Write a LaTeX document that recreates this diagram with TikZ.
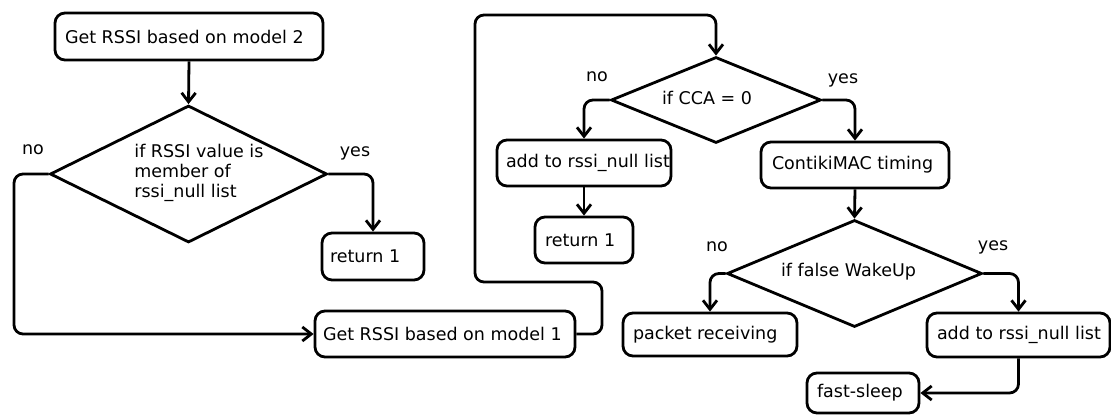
\documentclass[tikz,border=0pt]{standalone}
\usepackage{fontspec}
\setmainfont{DejaVu Sans}
\usetikzlibrary{arrows.meta,shapes.geometric}
\newcommand\bxt[3]{\makebox[#1pt][l]{\hspace*{#2pt}#3}}
\begin{document}
\begin{tikzpicture}[x=1pt,y=-1pt,
  line width=2.8pt,
  every node/.style={font=\fontsize{17.5}{20}\selectfont, text=black},
  box/.style={draw=black, rounded corners=10pt, inner sep=0pt},
  dia/.style={draw=black, diamond, inner sep=0pt},
  lbl/.style={inner sep=0pt},
  arr/.style={-{Straight Barb[length=9pt,width=14pt,line width=2.8pt]}, rounded corners=9pt}]
\useasboundingbox (0,0) rectangle (1111,415);

% boxes
\node[box, minimum height=47pt] (m2) at (189,36.5) {\bxt{268}{10}{Get RSSI based on model 2}};
\node[box, minimum height=47pt] (ret1a) at (373,256.5) {\bxt{102}{8}{return 1}};
\node[box, minimum height=46pt] (m1) at (445,334) {\bxt{260}{8}{Get RSSI based on model 1}};
\node[box, minimum height=46pt] (add1) at (584,163) {\bxt{174}{9}{add to rssi\_null list}};
\node[box, minimum height=46pt] (ret1b) at (584,240) {\bxt{98}{10}{return 1}};
\node[box, minimum height=46pt] (ctk) at (855,165) {\bxt{188}{11}{ContikiMAC timing}};
\node[box, minimum height=43pt] (pr) at (710,334.5) {\bxt{174}{10}{packet receiving}};
\node[box, minimum height=44pt] (add2) at (1018.5,335) {\bxt{183}{10}{add to rssi\_null list}};
\node[box, minimum height=40pt] (fs) at (863,393) {\bxt{112}{10}{fast-sleep}};

% diamonds
\node[dia, minimum width=277pt, minimum height=137pt] (d1) at (188.5,174) {};
\node[dia, minimum width=210pt, minimum height=86pt] (d2) at (716,100) {};
\node[dia, minimum width=255pt, minimum height=107pt] (d3) at (854.5,273.5) {};
\node[lbl, anchor=west, align=left] (d1t) at (133,173) {if RSSI value is\\member of\\rssi\_null list};
\node[lbl] (d2t) at (707,98) {if CCA = 0};
\node[lbl] (d3t) at (848.5,272) {if false WakeUp};

% branch labels
\node[lbl] (no1) at (33,150) {no};
\node[lbl] (yes1) at (355,153) {yes};
\node[lbl] (no2) at (597,77) {no};
\node[lbl] (yes2) at (843,80) {yes};
\node[lbl] (no3) at (717,247) {no};
\node[lbl] (yes3) at (993,247) {yes};

% helper coordinates for the loop
\coordinate (l1) at (602,282);
\coordinate (l2) at (475,15);
\coordinate (l0) at (14,174);

% connectors
\draw[arr] (m2.south) -- (d1.north);
\draw[arr] (d1.east) -| (ret1a.north);
\draw[arr] (d1.west) -- (l0) |- (m1.west);
\draw[arr] (m1.east) -| (l1) -| (l2) -| (d2.north);
\draw[arr] (d2.west) -| (add1.north);
\draw[arr] (d2.east) -| (ctk.north);
\draw[arr] (add1.south) -- (ret1b.north);
\draw[arr] (ctk.south) -- (d3.north);
\draw[arr] (d3.west) -| (pr.north);
\draw[arr] (d3.east) -| (add2.north);
\draw[arr] (add2.south) |- (fs.east);
\end{tikzpicture}
\end{document}
